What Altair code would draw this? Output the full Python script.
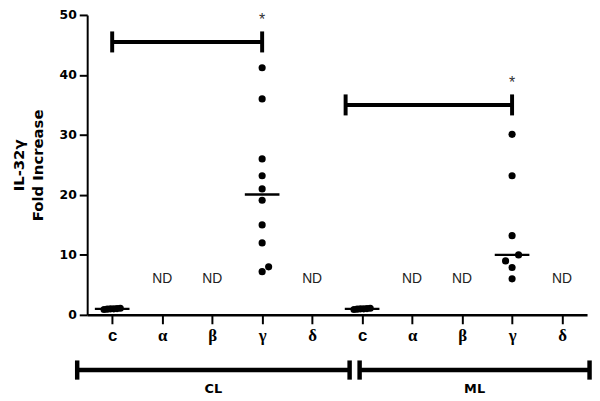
import altair as alt
import pandas as pd

# ---- data ----
categories = ["c", "α", "β", "γ", "δ"]
groups = ["CL", "ML"]
cl_control = [0.9, 1.0, 1.1, 1.0, 0.95, 1.05]
cl_gamma = [41.2, 36.0, 26.0, 23.2, 21.0, 19.1, 15.0, 12.0, 8.0, 7.2]
ml_control = [0.95, 1.0, 1.05, 1.0, 0.9, 1.1]
ml_gamma = [30.1, 23.2, 13.2, 10.0, 9.0, 7.9, 6.0]
nd_categories = ["α", "β", "δ"]
nd_text = "ND"
nd_level = 6.0
y_ticks = [0, 10, 20, 30, 40, 50]

sig_groups = ["CL", "ML"]
sig_start = [0.5, 5.17]
sig_end = [3.5, 8.5]
sig_level = [45.5, 35.0]
sig_text = "*"

bracket_start = [-0.2, 5.45]
bracket_end = [5.25, 10.05]
bracket_level = -9.2
group_label_level = -12.4

# ---- tables ----
series = {("CL", "c"): cl_control, ("CL", "γ"): cl_gamma,
          ("ML", "c"): ml_control, ("ML", "γ"): ml_gamma}
rows = []
for (g, c), vals in series.items():
    idx = groups.index(g) * len(categories) + categories.index(c)
    for v in vals:
        rows.append({"group": g, "category": c, "value": v, "idx": idx})
pts = pd.DataFrame(rows)

nd_rows = []
for g in groups:
    for c in nd_categories:
        idx = groups.index(g) * len(categories) + categories.index(c)
        nd_rows.append({"idx": idx, "level": nd_level, "label": nd_text})
nd_df = pd.DataFrame(nd_rows)

sig_df = pd.DataFrame({"group": sig_groups, "start": sig_start,
                       "end": sig_end, "level": sig_level})
br_df = pd.DataFrame({"group": groups, "start": bracket_start,
                      "end": bracket_end})
br_df["level"] = bracket_level
br_df["label_level"] = group_label_level

NCAT = len(groups) * len(categories)
XS = alt.Scale(domain=[0, NCAT], nice=False, zero=False)
YS = alt.Scale(domain=[0, 50], nice=False, zero=False)

label_list = "[" + ",".join("'" + c + "'" for c in categories) + "]"
x_axis = alt.Axis(
    values=[i + 0.5 for i in range(NCAT)],
    labelExpr=label_list + "[floor(datum.value) % " + str(len(categories)) + "]",
    title=None, grid=False, domainColor="black", domainWidth=2.5,
    tickColor="black", tickWidth=2, tickSize=9, labelPadding=4,
    labelFontSize=17, labelFontWeight="bold", labelColor="black",
    labelFont={"condition": {"test": "floor(datum.value) % 5 == 0", "value": "Liberation Sans"},
               "value": "Liberation Serif"},
)
y_axis = alt.Axis(
    values=y_ticks, title=["IL-32γ", "Fold Increase"], grid=False,
    domainColor="black", domainWidth=2, tickColor="black", tickWidth=2,
    tickSize=8, labelPadding=3, labelFont="DejaVu Sans", labelFontSize=12.5,
    labelFontWeight="bold", labelColor="black", titleFont="DejaVu Sans",
    titleFontSize=15, titleFontWeight="bold", titleColor="black",
    titleLineHeight=19, titlePadding=14,
)

X = alt.X("xpos:Q", scale=XS)
Y = alt.Y("ypos:Q", scale=YS)

points = alt.Chart(pts).transform_window(
    rank="row_number()", sort=[alt.SortField("value", order="ascending")],
    groupby=["group", "category"],
).transform_window(
    window=[alt.WindowFieldDef(op="count", **{"as": "n"})],
    groupby=["group", "category"], frame=[None, None],
).transform_window(
    window=[alt.WindowFieldDef(op="lag", field="value", **{"as": "prev"})],
    sort=[alt.SortField("value", order="ascending")],
    groupby=["group", "category"],
).transform_calculate(
    off="datum.category == 'c' ? (datum.rank - (datum.n + 1) / 2) * 0.065 : "
        "((datum.prev != null && datum.value - datum.prev < 1.3) ? "
        "(datum.rank % 2 == 0 ? 0.13 : -0.13) : 0)",
    xpos="datum.idx + 0.5 + datum.off",
    ypos="datum.value",
).mark_circle(size=52, color="black", opacity=1).encode(
    x=alt.X("xpos:Q", scale=XS, axis=x_axis),
    y=alt.Y("ypos:Q", scale=YS, axis=y_axis),
)

medians = alt.Chart(pts).transform_aggregate(
    ypos="median(value)", groupby=["group", "category", "idx"]
).transform_calculate(xpos="datum.idx + 0.5").mark_tick(
    orient="horizontal", size=35, thickness=2.5, color="black", opacity=1
).encode(x=X, y=Y)

nd = alt.Chart(nd_df).transform_calculate(
    xpos="datum.idx + 0.5", ypos="datum.level"
).mark_text(
    font="Liberation Sans", fontSize=14, color="#222", baseline="middle", align="center"
).encode(x=X, y=Y, text="label:N")

sig_line = alt.Chart(sig_df).transform_calculate(
    xpos="datum.start", ypos="datum.level"
).mark_rule(color="black", strokeWidth=4).encode(x=X, x2="end:Q", y=Y)

sig_caps = alt.Chart(sig_df).transform_fold(
    ["start", "end"], as_=["side", "xpos"]
).transform_calculate(
    ypos="datum.level - 1.75", hi="datum.level + 1.75"
).mark_rule(color="black", strokeWidth=4).encode(x=X, y=Y, y2="hi:Q")

stars = alt.Chart(sig_df).transform_calculate(
    xpos="datum.end", ypos="datum.level"
).mark_text(
    text=sig_text, fontSize=16, color="#333", dy=-30, baseline="top", font="Liberation Sans"
).encode(x=X, y=Y)

br_line = alt.Chart(br_df).transform_calculate(
    xpos="datum.start", ypos="datum.level"
).mark_rule(color="black", strokeWidth=4.5).encode(x=X, x2="end:Q", y=Y)

br_caps = alt.Chart(br_df).transform_fold(
    ["start", "end"], as_=["side", "xpos"]
).transform_calculate(
    ypos="datum.level - 1.6", hi="datum.level + 1.6"
).mark_rule(color="black", strokeWidth=4.5).encode(x=X, y=Y, y2="hi:Q")

br_labels = alt.Chart(br_df).transform_calculate(
    xpos="(datum.start + datum.end) / 2", ypos="datum.label_level"
).mark_text(
    font="DejaVu Sans", fontSize=13, fontWeight="bold", color="black", baseline="middle"
).encode(x=X, y=Y, text="group:N")

chart = alt.layer(
    points, medians, nd, sig_line, sig_caps, stars, br_line, br_caps, br_labels
).properties(
    width=505, height=303,
    autosize=alt.AutoSizeParams(type="none"),
    padding={"left": 80, "top": 5, "right": 5, "bottom": 84},
    background="white",
).configure_view(stroke=None)

chart.save("out.html", embed_options={"renderer": "svg", "actions": False})
